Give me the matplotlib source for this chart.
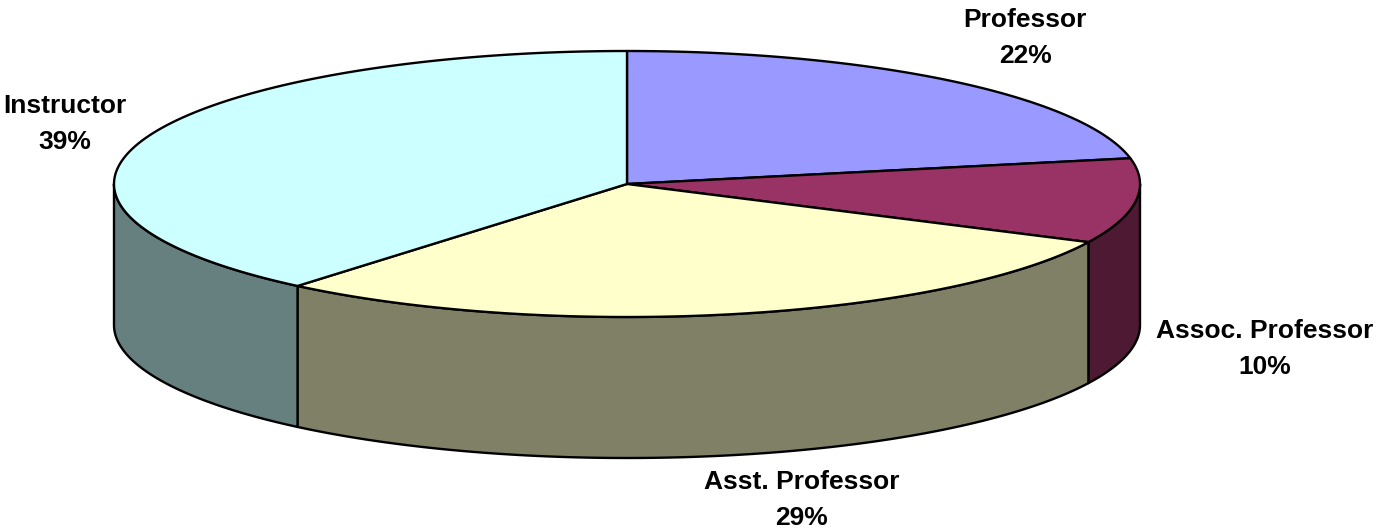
import matplotlib
matplotlib.use("Agg")
import matplotlib.pyplot as plt
import numpy as np
from matplotlib.patches import Polygon

labels = ["Professor", "Assoc. Professor", "Asst. Professor", "Instructor"]
shares = [21.9, 10.3, 28.9, 38.9]
top_colors = ["#9999ff", "#993366", "#ffffcc", "#ccffff"]
side_colors = ["#666699", "#4d1933", "#808066", "#668080"]
label_xy = [(1025, 38), (1265, 349), (802, 500), (65, 124)]

# pie geometry in pixels
cx, cy = 627, 184
rx, ry = 513, 133
depth = 141


def rim(start, stop):
    # angles clockwise from 12 o'clock, in degrees
    t = np.radians(np.linspace(start, stop, 200))
    return np.column_stack([cx + rx * np.sin(t), cy - ry * np.cos(t)])


fig = plt.figure(figsize=(13.76, 5.28), dpi=100)
ax = fig.add_axes([0, 0, 1, 1])
ax.set_xlim(0, 1376)
ax.set_ylim(528, 0)
ax.axis("off")

edges = np.cumsum([0] + shares) * 3.6

# side walls, only the front half of the rim shows
for start, stop, color in zip(edges[:-1], edges[1:], side_colors):
    a, b = max(start, 90), min(stop, 270)
    if a >= b:
        continue
    upper = rim(a, b)
    lower = upper[::-1] + [0, depth]
    ax.add_patch(Polygon(np.vstack([upper, lower]), closed=True, facecolor=color,
                         edgecolor="black", linewidth=1.7, joinstyle="round"))

# top faces
for start, stop, color in zip(edges[:-1], edges[1:], top_colors):
    pts = np.vstack([[cx, cy], rim(start, stop)])
    ax.add_patch(Polygon(pts, closed=True, facecolor=color,
                         edgecolor="black", linewidth=1.7, joinstyle="round"))

for name, share, (x, y) in zip(labels, shares, label_xy):
    ax.text(x, y, f"{name}\n{share:.0f}%", ha="center", va="center", fontsize=19,
            fontweight="bold", family="Liberation Sans", color="black", linespacing=1.6)

fig.savefig("out.png", dpi=100)
